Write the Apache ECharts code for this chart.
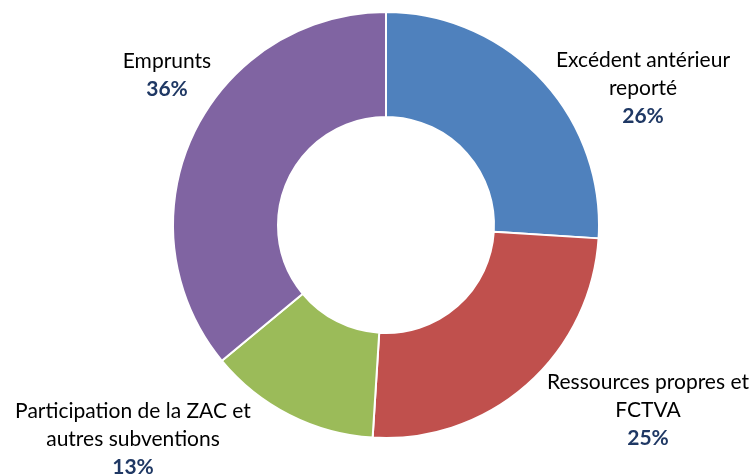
<!DOCTYPE html>
<html>
<head>
    <meta charset="utf-8">
    <title>Financement</title>
    <script src="https://cdn.jsdelivr.net/npm/echarts@6/dist/echarts.min.js"></script>
    <style>
        body { margin: 0; background: #fff; }
    </style>
</head>
<body>
    <div id="myChart" style="width: 754px;height:474px;"></div>
    <script>
        // données
        var categories = ['Excédent antérieur\nreporté', 'Ressources propres et\nFCTVA', 'Participation de la ZAC et\nautres subventions', 'Emprunts'];
        var values = [26, 25, 13, 36];
        var colors = ['#4F81BD', '#C0504D', '#9BBB59', '#8064A2'];

        // position des étiquettes (centre du bloc de texte)
        var labelPos = [[643, 88], [648, 410], [133, 439], [167, 75]];

        var myChart = echarts.init(document.getElementById('myChart'));

        var option = {
            animation: false,
            series: [{
                type: 'pie',
                center: [386, 225],
                radius: [108, 213],
                startAngle: 90,
                clockwise: true,
                data: categories.map(function (c, i) {
                    return { name: c, value: values[i], itemStyle: { color: colors[i] } };
                }),
                itemStyle: {
                    borderColor: '#fff',
                    borderWidth: 2
                },
                label: {
                    show: true,
                    position: 'outside',
                    overflow: 'none',
                    formatter: function (p) {
                        return p.name.split('\n').map(function (s) { return '{n|' + s + '}'; }).join('\n') + '\n{p|' + p.value + '%}';
                    },
                    rich: {
                        n: { fontFamily: 'Lato', fontSize: 21, color: '#000', lineHeight: 28, align: 'center' },
                        p: { fontFamily: 'Lato', fontSize: 21, fontWeight: 'bold', color: '#1F3864', lineHeight: 28, align: 'center' }
                    }
                },
                labelLine: { show: false },
                labelLayout: function (params) {
                    var pos = labelPos[params.dataIndex];
                    return { x: pos[0], y: pos[1], align: 'center', verticalAlign: 'middle' };
                }
            }]
        };
        myChart.setOption(option);
    </script>
</body>
</html>
